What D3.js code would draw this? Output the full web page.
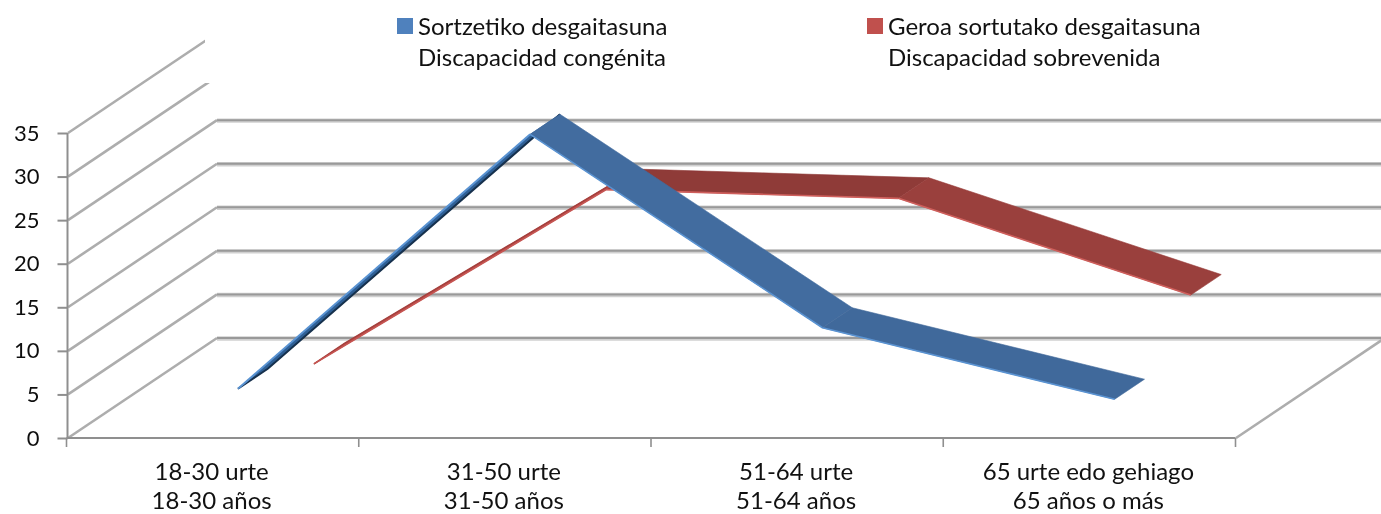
<!DOCTYPE html>
<html><head><meta charset="utf-8">
<style>html,body{margin:0;padding:0;background:#fff}svg{display:block}text{font-family:Lato,"Open Sans",sans-serif;font-size:24px;fill:#111}</style>
<script src="https://cdn.jsdelivr.net/npm/d3@7"></script></head><body>
<script>
const categoriesEu = ["18-30 urte","31-50 urte","51-64 urte","65 urte edo gehiago"];
const categoriesEs = ["18-30 años","31-50 años","51-64 años","65 años o más"];
const congenita = [3.7, 32.9, 10.7, 2.5];
const sobrevenida = [0.7, 20.7, 19.7, 8.6];
const yTicks = [0,5,10,15,20,25,30,35];
const legendEu = ["Sortzetiko desgaitasuna","Geroa sortutako desgaitasuna"];
const legendEs = ["Discapacidad congénita","Discapacidad sobrevenida"];

const W=1381,H=514;
const svg=d3.select("body").append("svg").attr("width",W).attr("height",H);
const defs=svg.append("defs");
defs.append("filter").attr("id","soft").attr("x","-5%").attr("y","-5%").attr("width","110%").attr("height","110%")
  .append("feGaussianBlur").attr("stdDeviation",0.6);
defs.append("clipPath").attr("id","wall").append("polygon")
  .attr("points","0,0 205,0 205,83 1381,83 1381,514 0,514");

const x=d3.scaleBand().domain(categoriesEu).range([66.5,1235.5]);
const y=d3.scaleLinear().domain([0,35]).range([438,133]);
const depthX=149, depthY=100;
const px=(c,d)=>x(c)+x.bandwidth()/2+d*depthX;
const py=(v,d)=>y(v)-d*depthY;

const g=svg.append("g").attr("filter","url(#soft)");
const grid=g.append("g").attr("clip-path","url(#wall)");
yTicks.forEach(t=>{
  const y0=y(t)-depthY;
  grid.append("line").attr("x1",68+depthX).attr("x2",W).attr("y1",y0+0.5).attr("y2",y0+0.5).attr("stroke","#d0d0d0").attr("stroke-width",4.4);
  grid.append("line").attr("x1",68+depthX).attr("x2",W).attr("y1",y0).attr("y2",y0).attr("stroke","#999").attr("stroke-width",2);
});
yTicks.forEach(t=>{
  grid.append("line").attr("x1",68).attr("y1",y(t)).attr("x2",68+depthX).attr("y2",y(t)-depthY).attr("stroke","#adadad").attr("stroke-width",2.6);
});
grid.append("line").attr("x1",1236).attr("y1",y(0)).attr("x2",1236+depthX).attr("y2",y(0)-depthY).attr("stroke","#adadad").attr("stroke-width",2.6);

function ribbon(values,d0,d1,fills,frontEdge,firstFront,firstBack,firstWidth){
  const s=g.append("g");
  d3.pairs(d3.zip(categoriesEu,values)).forEach(([a,b],i)=>{
    const pts=[[px(a[0],d0),py(a[1],d0)],[px(b[0],d0),py(b[1],d0)],[px(b[0],d1),py(b[1],d1)],[px(a[0],d1),py(a[1],d1)]];
    s.append("polygon").attr("points",pts.join(" ")).attr("fill",fills[i]).attr("stroke",fills[i]).attr("stroke-width",0.6);
    if(i==0){
      s.append("polyline").attr("points",[pts[0],pts[3],pts[2]].join(" ")).attr("fill","none").attr("stroke",firstBack).attr("stroke-width",firstWidth);
      s.append("line").attr("x1",pts[0][0]).attr("y1",pts[0][1]).attr("x2",pts[1][0]).attr("y2",pts[1][1]).attr("stroke",firstFront).attr("stroke-width",firstWidth);
    } else {
      s.append("line").attr("x1",pts[0][0]).attr("y1",pts[0][1]).attr("x2",pts[1][0]).attr("y2",pts[1][1]).attr("stroke",frontEdge).attr("stroke-width",1.6);
    }
  });
  return s;
}
ribbon(sobrevenida,0.68,0.885,["#b84c49","#8f3a38","#9a3f3c"],"#cf5f5c","#c65552","#a5403d",1.6);
ribbon(congenita,0.17,0.37,["#2f5f95","#426c9f","#41699b"],"#5a93d2","#5a93d2","#17304d",2);

const axisG=svg.append("g").attr("filter","url(#soft)");
const ya=axisG.append("g").attr("transform","translate(67.5,0)").call(d3.axisLeft(y).tickValues(yTicks).tickSize(10).tickPadding(18));
ya.selectAll("path,line").attr("stroke","#8f8f8f").attr("stroke-width",2);
ya.select("path").attr("d",`M0,${y(35)}V${y(0)}`);
ya.selectAll("text").attr("fill","#111").style("font-size","22px").style("font-family","Lato");
const tickX=[...categoriesEu.map(c=>x(c)),1235.5];
const xa=axisG.append("g");
xa.append("line").attr("x1",66.5).attr("x2",1235.5).attr("y1",y(0)).attr("y2",y(0)).attr("stroke","#8f8f8f").attr("stroke-width",2);
xa.selectAll("line.t").data(tickX).join("line").attr("class","t").attr("x1",d=>d).attr("x2",d=>d).attr("y1",y(0)).attr("y2",y(0)+9).attr("stroke","#8f8f8f").attr("stroke-width",1.6);
const lab=svg.append("g").attr("text-anchor","middle");
categoriesEu.forEach((c,i)=>{
  const cx=x(c)+x.bandwidth()/2-1;
  lab.append("text").attr("x",cx).attr("y",480).text(c);
  lab.append("text").attr("x",cx).attr("y",509).text(categoriesEs[i]);
});

const legendColors=["#4f81bd","#c0504d"], lx=[397,867];
legendEu.forEach((t,i)=>{
  svg.append("rect").attr("x",lx[i]).attr("y",18).attr("width",16).attr("height",16).attr("fill",legendColors[i]);
  svg.append("text").attr("x",lx[i]+21).attr("y",35).text(t);
  svg.append("text").attr("x",lx[i]+21).attr("y",66).text(legendEs[i]);
});
</script></body></html>
